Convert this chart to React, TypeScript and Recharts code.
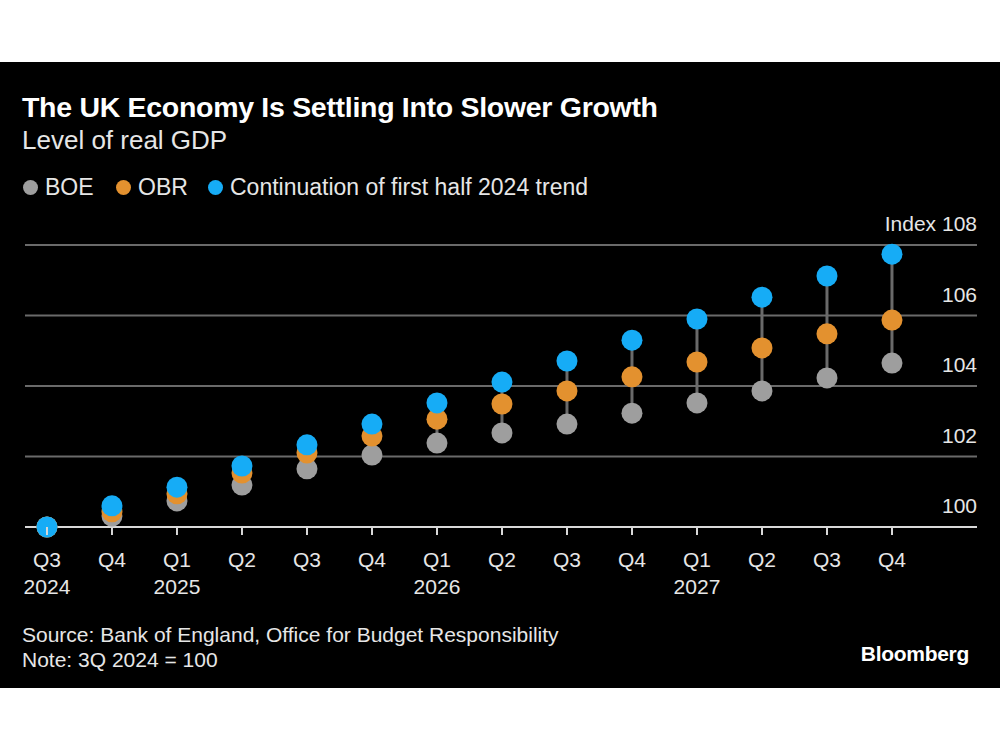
import React from "react";
import { ComposedChart, Bar, Scatter, XAxis, YAxis, CartesianGrid } from "recharts";

const quarters = ["Q3", "Q4", "Q1", "Q2", "Q3", "Q4", "Q1", "Q2", "Q3", "Q4", "Q1", "Q2", "Q3", "Q4"];
const years = ["2024", "", "2025", "", "", "", "2026", "", "", "", "2027", "", "", ""];
const boe = [100, 100.31, 100.74, 101.19, 101.65, 102.04, 102.38, 102.67, 102.92, 103.23, 103.52, 103.86, 104.23, 104.65];
const obr = [100, 100.43, 100.94, 101.53, 102.1, 102.58, 103.06, 103.49, 103.86, 104.26, 104.68, 105.08, 105.48, 105.87];
const trend = [100, 100.6, 101.13, 101.73, 102.33, 102.92, 103.52, 104.11, 104.71, 105.3, 105.9, 106.52, 107.12, 107.74];
const yTicks = [100, 102, 104, 106, 108];

const GRAY = "#9e9e9e";
const ORANGE = "#e3912f";
const BLUE = "#16acf6";
const FONT = "'Liberation Sans', Arial, sans-serif";

const data = quarters.map((q, i) => ({
  i,
  boe: boe[i],
  obr: obr[i],
  trend: trend[i],
  range: [Math.min(boe[i], obr[i], trend[i]), Math.max(boe[i], obr[i], trend[i])],
}));

const dot = (color: string) => (props: any) =>
  props.cx == null ? null : <circle cx={props.cx} cy={props.cy} r={10.5} fill={color} />;

const XTick = (props: any) => {
  const { x, y, payload } = props;
  const idx = payload.value as number;
  return (
    <g>
      <line x1={x} x2={x} y1={y} y2={y + 8} stroke="#d8d8d8" strokeWidth={2} />
      <text x={x} y={y + 40} textAnchor="middle" fill="#e6e6e6" fontSize={21} fontFamily={FONT}>
        {quarters[idx]}
      </text>
      {years[idx] ? (
        <text x={x} y={y + 67} textAnchor="middle" fill="#e6e6e6" fontSize={21} fontFamily={FONT}>
          {years[idx]}
        </text>
      ) : null}
    </g>
  );
};

const YTick = (props: any) => {
  const { x, y, payload } = props;
  const v = payload.value as number;
  return (
    <text x={x} y={y - 14} textAnchor="end" fill="#e6e6e6" fontSize={21} fontFamily={FONT}>
      {v === 108 ? "Index 108" : String(v)}
    </text>
  );
};

const LegendItem = ({ color, label, left }: { color: string; label: string; left: number }) => (
  <div style={{ position: "absolute", left, top: 174, display: "flex", alignItems: "center", height: 26 }}>
    <div style={{ width: 15, height: 15, borderRadius: "50%", background: color, marginRight: 7 }} />
    <span style={{ color: "#e6e6e6", fontSize: 23, fontFamily: FONT }}>{label}</span>
  </div>
);

export default function App() {
  return (
    <div style={{ position: "absolute", left: 0, top: 0, width: 1000, height: 750, background: "#fff", overflow: "hidden" }}>
      <div style={{ position: "absolute", left: 0, top: 62, width: 1000, height: 626, background: "#000" }} />
      <div style={{ position: "absolute", left: 22, top: 91, color: "#fff", fontSize: 28.5, fontWeight: 700, fontFamily: FONT, letterSpacing: -0.3 }}>
        The UK Economy Is Settling Into Slower Growth
      </div>
      <div style={{ position: "absolute", left: 22, top: 125, color: "#e6e6e6", fontSize: 26, fontFamily: FONT }}>
        Level of real GDP
      </div>
      <LegendItem color={GRAY} label="BOE" left={23} />
      <LegendItem color={ORANGE} label="OBR" left={116} />
      <LegendItem color={BLUE} label="Continuation of first half 2024 trend" left={208} />

      <div style={{ position: "absolute", left: 0, top: 0 }}>
        <ComposedChart
          width={1000}
          height={750}
          data={data}
          margin={{ top: 245, right: 0, bottom: 163, left: 25 }}
        >
          <CartesianGrid horizontal vertical={false} stroke="#6a6a6a" strokeWidth={2} />
          <XAxis
            dataKey="i"
            type="number"
            domain={[-0.338, 14.308]}
            ticks={quarters.map((_, i) => i)}
            interval={0}
            height={60}
            tickSize={0}
            tickMargin={0}
            axisLine={{ stroke: "#d8d8d8", strokeWidth: 2 }}
            tickLine={false}
            tick={<XTick />}
          />
          <YAxis
            orientation="right"
            type="number"
            domain={[100, 108]}
            ticks={yTicks}
            width={23}
            tickSize={0}
            tickMargin={0}
            axisLine={false}
            tickLine={false}
            tick={<YTick />}
          />
          <Bar dataKey="range" fill="#6a6a6a" barSize={3} isAnimationActive={false} />
          <Scatter dataKey="boe" shape={dot(GRAY)} isAnimationActive={false} />
          <Scatter dataKey="obr" shape={dot(ORANGE)} isAnimationActive={false} />
          <Scatter dataKey="trend" shape={dot(BLUE)} isAnimationActive={false} />
        </ComposedChart>
      </div>

      <div style={{ position: "absolute", left: 22, top: 622, color: "#e6e6e6", fontSize: 21, fontFamily: FONT, lineHeight: "25px" }}>
        <div>Source: Bank of England, Office for Budget Responsibility</div>
        <div>Note: 3Q 2024 = 100</div>
      </div>
      <div style={{ position: "absolute", right: 31, top: 642, color: "#fff", fontSize: 21, fontWeight: 700, fontFamily: FONT, letterSpacing: -0.3 }}>
        Bloomberg
      </div>
    </div>
  );
}
